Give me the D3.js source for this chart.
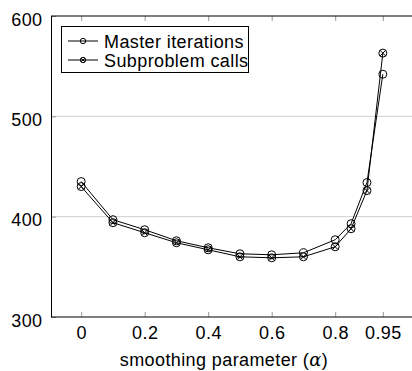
<!DOCTYPE html>
<html>
<head>
<meta charset="utf-8">
<script src="https://cdn.jsdelivr.net/npm/d3@7"></script>
<style>
  body { margin: 0; background: #fff; }
  text { font-family: "Liberation Sans", Arial, sans-serif; }
</style>
</head>
<body>
<svg id="chart" width="412" height="371"></svg>
<script>
// data
var alphas = [0, 0.1, 0.2, 0.3, 0.4, 0.5, 0.6, 0.7, 0.8, 0.85, 0.9, 0.95];
var masterIterations = [435, 397, 387, 376, 369, 363, 362, 364, 377, 393, 434, 542];
var subproblemCalls = [430, 394, 384, 374, 367, 360, 359, 360, 370, 388, 426, 563];
var xTicks = [0, 0.2, 0.4, 0.6, 0.8, 0.95];
var yTicks = [300, 400, 500, 600];
var seriesNames = ["Master iterations", "Subproblem calls"];

var FS = 18, LS = 0.4;

var svg = d3.select("#chart");

var x = d3.scaleLinear().domain([-0.095, 1.045]).range([51, 413]);
var y = d3.scaleLinear().domain([300, 600]).range([317, 16]);

// grid
svg.append("g")
  .selectAll("line")
  .data(yTicks.filter(function (d) { return d > 300 && d < 600; }))
  .enter().append("line")
  .attr("x1", x.range()[0]).attr("x2", x.range()[1])
  .attr("y1", function (d) { return y(d); })
  .attr("y2", function (d) { return y(d); })
  .attr("stroke", "#d0d0d0").attr("stroke-width", 1);

// axes, ticks pointing inward
var axBottom = svg.append("g").attr("transform", "translate(0," + y(300) + ")")
  .call(d3.axisBottom(x).tickValues(xTicks).tickSize(-5).tickPadding(9)
    .tickFormat(function (d) { return String(d); }));
var axTop = svg.append("g").attr("transform", "translate(0," + y(600) + ")")
  .call(d3.axisTop(x).tickValues(xTicks).tickSize(-5).tickFormat(""));
var axLeft = svg.append("g").attr("transform", "translate(" + x(-0.095) + ",0)")
  .call(d3.axisLeft(y).tickValues(yTicks).tickSize(-5).tickPadding(8.5));

[axBottom, axTop, axLeft].forEach(function (g) {
  g.select(".domain").remove();
  g.selectAll(".tick line").attr("stroke", "#999");
  g.selectAll("text").attr("font-size", FS).attr("fill", "#000")
    .attr("letter-spacing", LS)
    .attr("font-family", "Liberation Sans, Arial, sans-serif");
});
axLeft.selectAll("text").attr("dy", "0.5em");

// frame
svg.append("rect")
  .attr("x", x.range()[0] + 0.5).attr("y", y(600))
  .attr("width", x.range()[1] - x.range()[0])
  .attr("height", y(300) - y(600))
  .attr("fill", "none").attr("stroke", "#000").attr("stroke-width", 1);

// axis title
var title = svg.append("text")
  .attr("x", 224).attr("y", 366)
  .attr("text-anchor", "middle")
  .attr("letter-spacing", LS)
  .attr("font-size", FS);
title.append("tspan").text("smoothing parameter (");
title.append("tspan").text("α")
  .attr("font-family", "DejaVu Serif, serif").attr("font-style", "italic");
title.append("tspan").text(")");

var line = d3.line()
  .x(function (d) { return x(d[0]); })
  .y(function (d) { return y(d[1]); });

function drawMarker(g, px, py, r, crossed) {
  g.append("circle").attr("cx", px).attr("cy", py).attr("r", r)
    .attr("fill", "none").attr("stroke", "#000").attr("stroke-width", 1);
  if (crossed) {
    var k = r * Math.SQRT1_2;
    g.append("path")
      .attr("d", "M" + (px - k) + "," + (py - k) + "L" + (px + k) + "," + (py + k) +
        "M" + (px - k) + "," + (py + k) + "L" + (px + k) + "," + (py - k))
      .attr("stroke", "#000").attr("stroke-width", 1);
  }
}

[masterIterations, subproblemCalls].forEach(function (vals, si) {
  var pts = alphas.map(function (a, i) { return [a, vals[i]]; });
  var g = svg.append("g");
  g.append("path").datum(pts).attr("d", line)
    .attr("fill", "none").attr("stroke", "#000").attr("stroke-width", 1);
  pts.forEach(function (p) {
    drawMarker(g, x(p[0]), y(p[1]), 4, si === 1);
  });
});

// legend
var leg = svg.append("g");
leg.append("rect")
  .attr("x", 61.5).attr("y", 26.5).attr("width", 187).attr("height", 46)
  .attr("fill", "#fff").attr("stroke", "#000").attr("stroke-width", 1);
seriesNames.forEach(function (name, i) {
  var cy = 41 + i * 19;
  leg.append("line").attr("x1", 68).attr("x2", 98).attr("y1", cy).attr("y2", cy)
    .attr("stroke", "#000").attr("stroke-width", 1);
  drawMarker(leg, 83, cy, 2.7, i === 1);
  leg.append("text").attr("x", 104).attr("y", cy + 6.5)
    .attr("font-size", FS).attr("letter-spacing", LS).text(name);
});
</script>
</body>
</html>
